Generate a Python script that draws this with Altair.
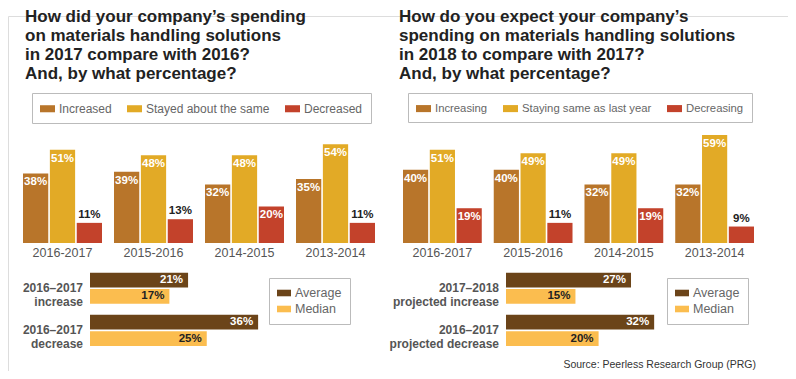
import altair as alt
import pandas as pd

FONT = "Liberation Sans"

left_title = ["How did your company’s spending", "on materials handling solutions",
              "in 2017 compare with 2016?", "And, by what percentage?"]
right_title = ["How do you expect your company’s", "spending on materials handling solutions",
               "in 2018 to compare with 2017?", "And, by what percentage?"]

periods = ["2016-2017", "2015-2016", "2014-2015", "2013-2014"]
left_series = ["Increased", "Stayed about the same", "Decreased"]
right_series = ["Increasing", "Staying same as last year", "Decreasing"]
left_increased = [38, 39, 32, 35]
left_same = [51, 48, 48, 54]
left_decreased = [11, 13, 20, 11]
right_increasing = [40, 40, 32, 32]
right_same = [51, 49, 49, 59]
right_decreasing = [19, 11, 19, 9]
series_colors = ["#b8752a", "#e2aa26", "#c3422b"]

measures = ["Average", "Median"]
measure_colors = ["#6b4419", "#fbbd4f"]
left_cats = ["2016–2017\nincrease", "2016–2017\ndecrease"]
left_avg = [21, 36]
left_med = [17, 25]
right_cats = ["2017–2018\nprojected increase", "2016–2017\nprojected decrease"]
right_avg = [27, 32]
right_med = [15, 20]
source_text = "Source: Peerless Research Group (PRG)"

RECT = "M-1,-0.47H1V0.47H-1Z"
TOP = 8  # top padding of the chart; y positions below are page y minus 8 minus TOP


def Y(page_y):
    return page_y - 8 - TOP


def title_chart(lines, x):
    df = pd.DataFrame({"t": ["\n".join(lines)]})
    return alt.Chart(df).mark_text(
        align="left", baseline="alphabetic", lineBreak="\n", lineHeight=18.8,
        fontSize=17, fontWeight="bold", color="#222", font=FONT
    ).encode(text="t:N", x=alt.value(x), y=alt.value(Y(22.3)))


def bar_chart(series, vals, xrange, legend_x, legend_font):
    rows = []
    for s, v in zip(series, vals):
        for p, val in zip(periods, v):
            rows.append({"period": p, "series": s, "value": val})
    df = pd.DataFrame(rows)
    xenc = alt.X("period:N", sort=periods, axis=None,
                 scale=alt.Scale(domain=periods, range=xrange, paddingInner=0.132, paddingOuter=0))
    base = alt.Chart(df).transform_calculate(label="datum.value + '%'").encode(
        x=xenc,
        xOffset=alt.XOffset("series:N", sort=series,
                            scale=alt.Scale(domain=series, paddingInner=0.06, paddingOuter=0)),
        y=alt.Y("value:Q", scale=alt.Scale(domain=[0, 60], range=[Y(243), Y(243) - 60 * 1.83]),
                axis=None),
    )
    bars = base.mark_bar().encode(
        color=alt.Color("series:N", sort=series,
                        scale=alt.Scale(domain=series, range=series_colors),
                        legend=alt.Legend(orient="none", legendX=legend_x, legendY=Y(93),
                                          direction="horizontal", title=None,
                                          symbolType=RECT, symbolSize=225, symbolStrokeWidth=0,
                                          labelFontSize=legend_font, labelColor="#666",
                                          labelFont=FONT, labelOffset=4, columnPadding=15,
                                          padding=8, strokeColor="#bbb", fillColor="white"))
    )
    inside = base.transform_filter("datum.value >= 15").mark_text(
        baseline="middle", dy=9, color="white", fontWeight="bold", fontSize=11.5, font=FONT
    ).encode(text="label:N")
    outside = base.transform_filter("datum.value < 15").mark_text(
        baseline="middle", dy=-8, color="#222", fontWeight="bold", fontSize=11.5, font=FONT
    ).encode(text="label:N")
    plabels = alt.Chart(pd.DataFrame({"period": periods})).mark_text(
        baseline="middle", fontSize=12.5, color="#555", font=FONT
    ).encode(x=xenc, y=alt.value(Y(253)), text="period:N")
    return alt.layer(bars, inside, outside, plabels)


def bottom_chart(cats, avg, med, xrange, label_x, legend_x):
    rows = []
    for c, a, m in zip(cats, avg, med):
        rows.append({"cat": c, "measure": "Average", "value": a})
        rows.append({"cat": c, "measure": "Median", "value": m})
    df = pd.DataFrame(rows)
    yenc = alt.Y("cat:N", sort=cats, axis=None,
                 scale=alt.Scale(domain=cats, range=[Y(272.7), Y(346)],
                                 paddingInner=0.26, paddingOuter=0))
    base = alt.Chart(df).transform_calculate(label="datum.value + '%'").encode(
        y=yenc,
        yOffset=alt.YOffset("measure:N", sort=measures,
                            scale=alt.Scale(domain=measures, paddingInner=0.1, paddingOuter=0)),
        x=alt.X("value:Q", scale=alt.Scale(domain=[0, 40], range=xrange), axis=None),
    )
    bars = base.mark_bar().encode(
        color=alt.Color("measure:N", sort=measures,
                        scale=alt.Scale(domain=measures, range=measure_colors),
                        legend=alt.Legend(orient="none", legendX=legend_x, legendY=Y(278),
                                          direction="vertical", title=None,
                                          symbolType=RECT, symbolSize=196, symbolStrokeWidth=0,
                                          labelFontSize=12.5, labelColor="#666", labelFont=FONT,
                                          labelOffset=4, rowPadding=2, padding=8,
                                          strokeColor="#bbb", fillColor="white"))
    )
    vlabels = base.mark_text(
        align="right", baseline="middle", dx=-5, fontWeight="bold", fontSize=11.5, font=FONT
    ).encode(
        text="label:N",
        color=alt.condition("datum.measure == 'Average'", alt.value("white"), alt.value("#222")),
    )
    clabels = alt.Chart(pd.DataFrame({"cat": cats})).mark_text(
        align="right", baseline="middle", lineBreak="\n", lineHeight=13.5,
        fontWeight="bold", fontSize=12, color="#555", font=FONT
    ).encode(y=yenc, x=alt.value(label_x), text="cat:N")
    return alt.layer(bars, vlabels, clabels)


src = alt.Chart(pd.DataFrame({"s": [source_text]})).mark_text(
    align="right", baseline="middle", fontSize=10.5, color="#333", font=FONT
).encode(text="s:N", x=alt.value(748), y=alt.value(Y(365)))

chart = alt.layer(
    title_chart(left_title, 17),
    title_chart(right_title, 391),
    bar_chart(left_series, [left_increased, left_same, left_decreased], [15, 367], 24, 12),
    bar_chart(right_series, [right_increasing, right_same, right_decreasing], [395, 746], 400, 11.3),
    bottom_chart(left_cats, left_avg, left_med, [82, 82 + 40 * 4.67], 75, 261),
    bottom_chart(right_cats, right_avg, right_med, [498, 498 + 40 * 4.63], 491, 659),
    src,
).resolve_scale(
    x="independent", y="independent", color="independent",
    xOffset="independent", yOffset="independent"
).properties(
    width=780, height=363 - TOP,
    padding={"left": 0, "top": TOP, "right": 0, "bottom": 0},
    autosize=alt.AutoSizeParams(type="none")
).configure_view(stroke=None).configure(font=FONT, background="white")

chart.save("out.html", embed_options={"renderer": "svg", "actions": False})
